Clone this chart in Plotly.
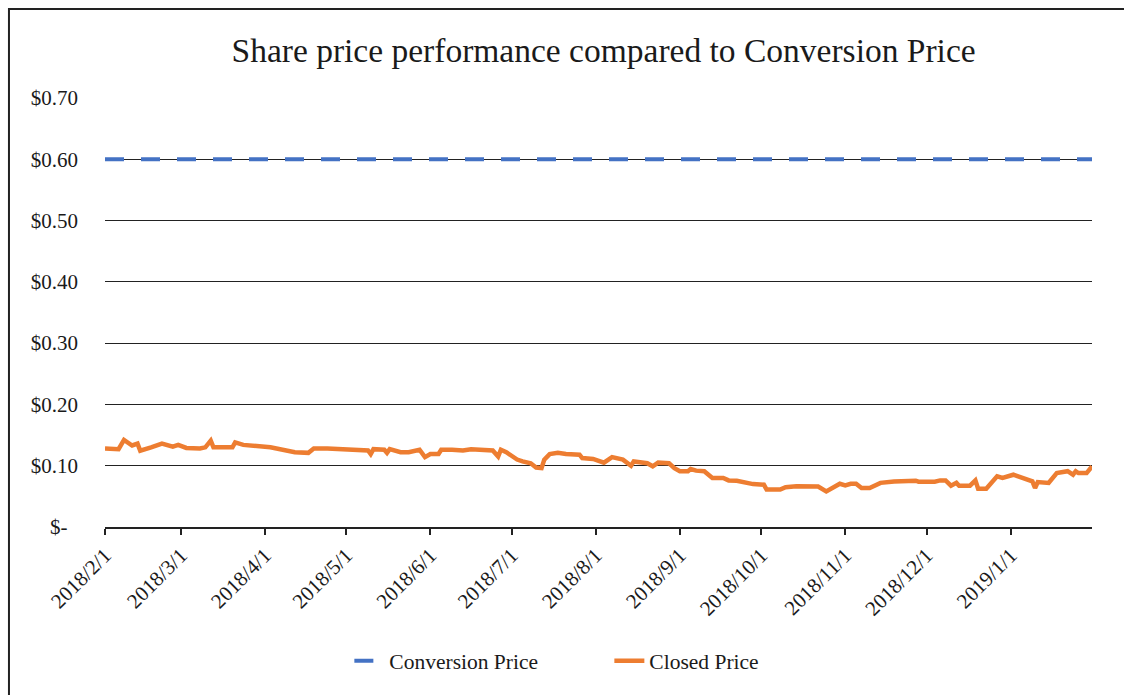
import plotly.graph_objects as go

dates = [
    "2018-02-01", "2018-02-06", "2018-02-08", "2018-02-11", "2018-02-13", "2018-02-14",
    "2018-02-18", "2018-02-22", "2018-02-26", "2018-02-28", "2018-03-03", "2018-03-08",
    "2018-03-10", "2018-03-12", "2018-03-13", "2018-03-20", "2018-03-21", "2018-03-24",
    "2018-04-03", "2018-04-10", "2018-04-12", "2018-04-17", "2018-04-19", "2018-04-24",
    "2018-05-02", "2018-05-09", "2018-05-10", "2018-05-11", "2018-05-15", "2018-05-16",
    "2018-05-17", "2018-05-21", "2018-05-24", "2018-05-28", "2018-05-30", "2018-06-01",
    "2018-06-04", "2018-06-05", "2018-06-09", "2018-06-13", "2018-06-16", "2018-06-20",
    "2018-06-24", "2018-06-26", "2018-06-27", "2018-06-29", "2018-07-03", "2018-07-05",
    "2018-07-08", "2018-07-10", "2018-07-12", "2018-07-13", "2018-07-15", "2018-07-18",
    "2018-07-21", "2018-07-26", "2018-07-27", "2018-07-31", "2018-08-04", "2018-08-07",
    "2018-08-11", "2018-08-14", "2018-08-15", "2018-08-20", "2018-08-22", "2018-08-24",
    "2018-08-28", "2018-08-30", "2018-09-01", "2018-09-04", "2018-09-05", "2018-09-07",
    "2018-09-10", "2018-09-13", "2018-09-17", "2018-09-19", "2018-09-22", "2018-09-28",
    "2018-10-02", "2018-10-03", "2018-10-08", "2018-10-10", "2018-10-14", "2018-10-22",
    "2018-10-25", "2018-10-30", "2018-11-01", "2018-11-03", "2018-11-05", "2018-11-07",
    "2018-11-10", "2018-11-14", "2018-11-19", "2018-11-27", "2018-11-28", "2018-12-04",
    "2018-12-06", "2018-12-08", "2018-12-10", "2018-12-12", "2018-12-13", "2018-12-17",
    "2018-12-19", "2018-12-20", "2018-12-23", "2018-12-27", "2018-12-29", "2019-01-02",
    "2019-01-05", "2019-01-09", "2019-01-10", "2019-01-11", "2019-01-15", "2019-01-18",
    "2019-01-22", "2019-01-24", "2019-01-25", "2019-01-26", "2019-01-29", "2019-01-31",
]

closed_price = [
    0.128, 0.127, 0.142, 0.133, 0.136, 0.1245,
    0.130, 0.136, 0.131, 0.134, 0.129, 0.128,
    0.130, 0.141, 0.130, 0.130, 0.138, 0.134,
    0.130, 0.1245, 0.122, 0.121, 0.128, 0.128,
    0.126, 0.125, 0.119, 0.127, 0.126, 0.121,
    0.127, 0.122, 0.122, 0.126, 0.114, 0.119,
    0.119, 0.126, 0.126, 0.125, 0.127, 0.126,
    0.125, 0.115, 0.126, 0.122, 0.110, 0.107,
    0.104, 0.097, 0.096, 0.110, 0.119, 0.121,
    0.119, 0.118, 0.1125, 0.111, 0.105, 0.114,
    0.110, 0.100, 0.107, 0.104, 0.099, 0.105,
    0.104, 0.096, 0.091, 0.091, 0.0946, 0.092,
    0.091, 0.080, 0.080, 0.076, 0.0755, 0.070,
    0.069, 0.061, 0.061, 0.065, 0.0663, 0.066,
    0.058, 0.0706, 0.068, 0.0706, 0.0706, 0.0636,
    0.0636, 0.072, 0.0744, 0.0755, 0.074, 0.074,
    0.076, 0.076, 0.0674, 0.072, 0.0674, 0.0674,
    0.076, 0.0625, 0.0625, 0.0826, 0.080, 0.0853,
    0.080, 0.0744, 0.0636, 0.0734, 0.072, 0.088,
    0.091, 0.0853, 0.091, 0.088, 0.088, 0.099,
]

conversion_price = [0.60] * len(dates)

x_tick_vals = ["2018-02-01", "2018-03-01", "2018-04-01", "2018-05-01", "2018-06-01",
               "2018-07-01", "2018-08-01", "2018-09-01", "2018-10-01", "2018-11-01",
               "2018-12-01", "2019-01-01"]
x_tick_text = ["2018/2/1", "2018/3/1", "2018/4/1", "2018/5/1", "2018/6/1", "2018/7/1",
               "2018/8/1", "2018/9/1", "2018/10/1", "2018/11/1", "2018/12/1", "2019/1/1"]

y_tick_vals = [0, 0.1, 0.2, 0.3, 0.4, 0.5, 0.6, 0.7]
y_tick_text = ["$-\u00a0\u00a0", "$0.10", "$0.20", "$0.30", "$0.40", "$0.50", "$0.60", "$0.70"]

FONT = "Liberation Serif, Times New Roman, serif"
TXT = "#1a1a1a"

fig = go.Figure()
fig.add_trace(go.Scatter(
    x=dates, y=conversion_price, mode="lines", name="Conversion Price",
    line=dict(color="#4472C4", width=4, dash="19px,17px"),
))
fig.add_trace(go.Scatter(
    x=dates, y=closed_price, mode="lines", name="Closed Price",
    line=dict(color="#ED7D31", width=4.5),
))

fig.update_layout(
    width=1124, height=695,
    margin=dict(l=105, r=32, t=98, b=168),
    paper_bgcolor="white", plot_bgcolor="white",
    font=dict(family=FONT, size=21, color=TXT),
    title=dict(text="Share price performance compared to Conversion Price",
               x=0.537, xanchor="center", y=0.928, yanchor="middle",
               font=dict(family=FONT, size=33.5, color=TXT)),
    showlegend=True,
    legend=dict(orientation="h", x=0.511, xanchor="center", y=-0.312, yanchor="middle",
                font=dict(family=FONT, size=21.5, color=TXT),
                bgcolor="rgba(0,0,0,0)", entrywidth=215),
    xaxis=dict(
        type="date", range=["2018-02-01", "2019-01-31"],
        tickmode="array", tickvals=x_tick_vals, ticktext=x_tick_text,
        tickangle=-45, showgrid=False, showline=True, linecolor="#222222", linewidth=1.5,
        ticks="outside", ticklen=6, tickcolor="#222222", tickwidth=1.5,
        zeroline=False, tickfont=dict(family=FONT, size=21, color=TXT),
    ),
    yaxis=dict(
        range=[0, 0.7], tickmode="array", tickvals=y_tick_vals, ticktext=y_tick_text,
        showgrid=True, gridcolor="#222222", gridwidth=1.3, zeroline=False,
        showline=False, ticks="", ticklabelstandoff=26,
        tickfont=dict(family=FONT, size=21, color=TXT),
    ),
    shapes=[dict(type="rect", xref="paper", yref="paper",
                 x0=-0.0973, x1=1.2, y0=-0.6, y1=1.2075,
                 line=dict(color="#222222", width=2), fillcolor="rgba(0,0,0,0)",
                 layer="below")],
)

fig.write_html("out.html", config={"displayModeBar": False},
               post_script="document.body.style.margin='0';document.body.style.overflow='hidden';")
